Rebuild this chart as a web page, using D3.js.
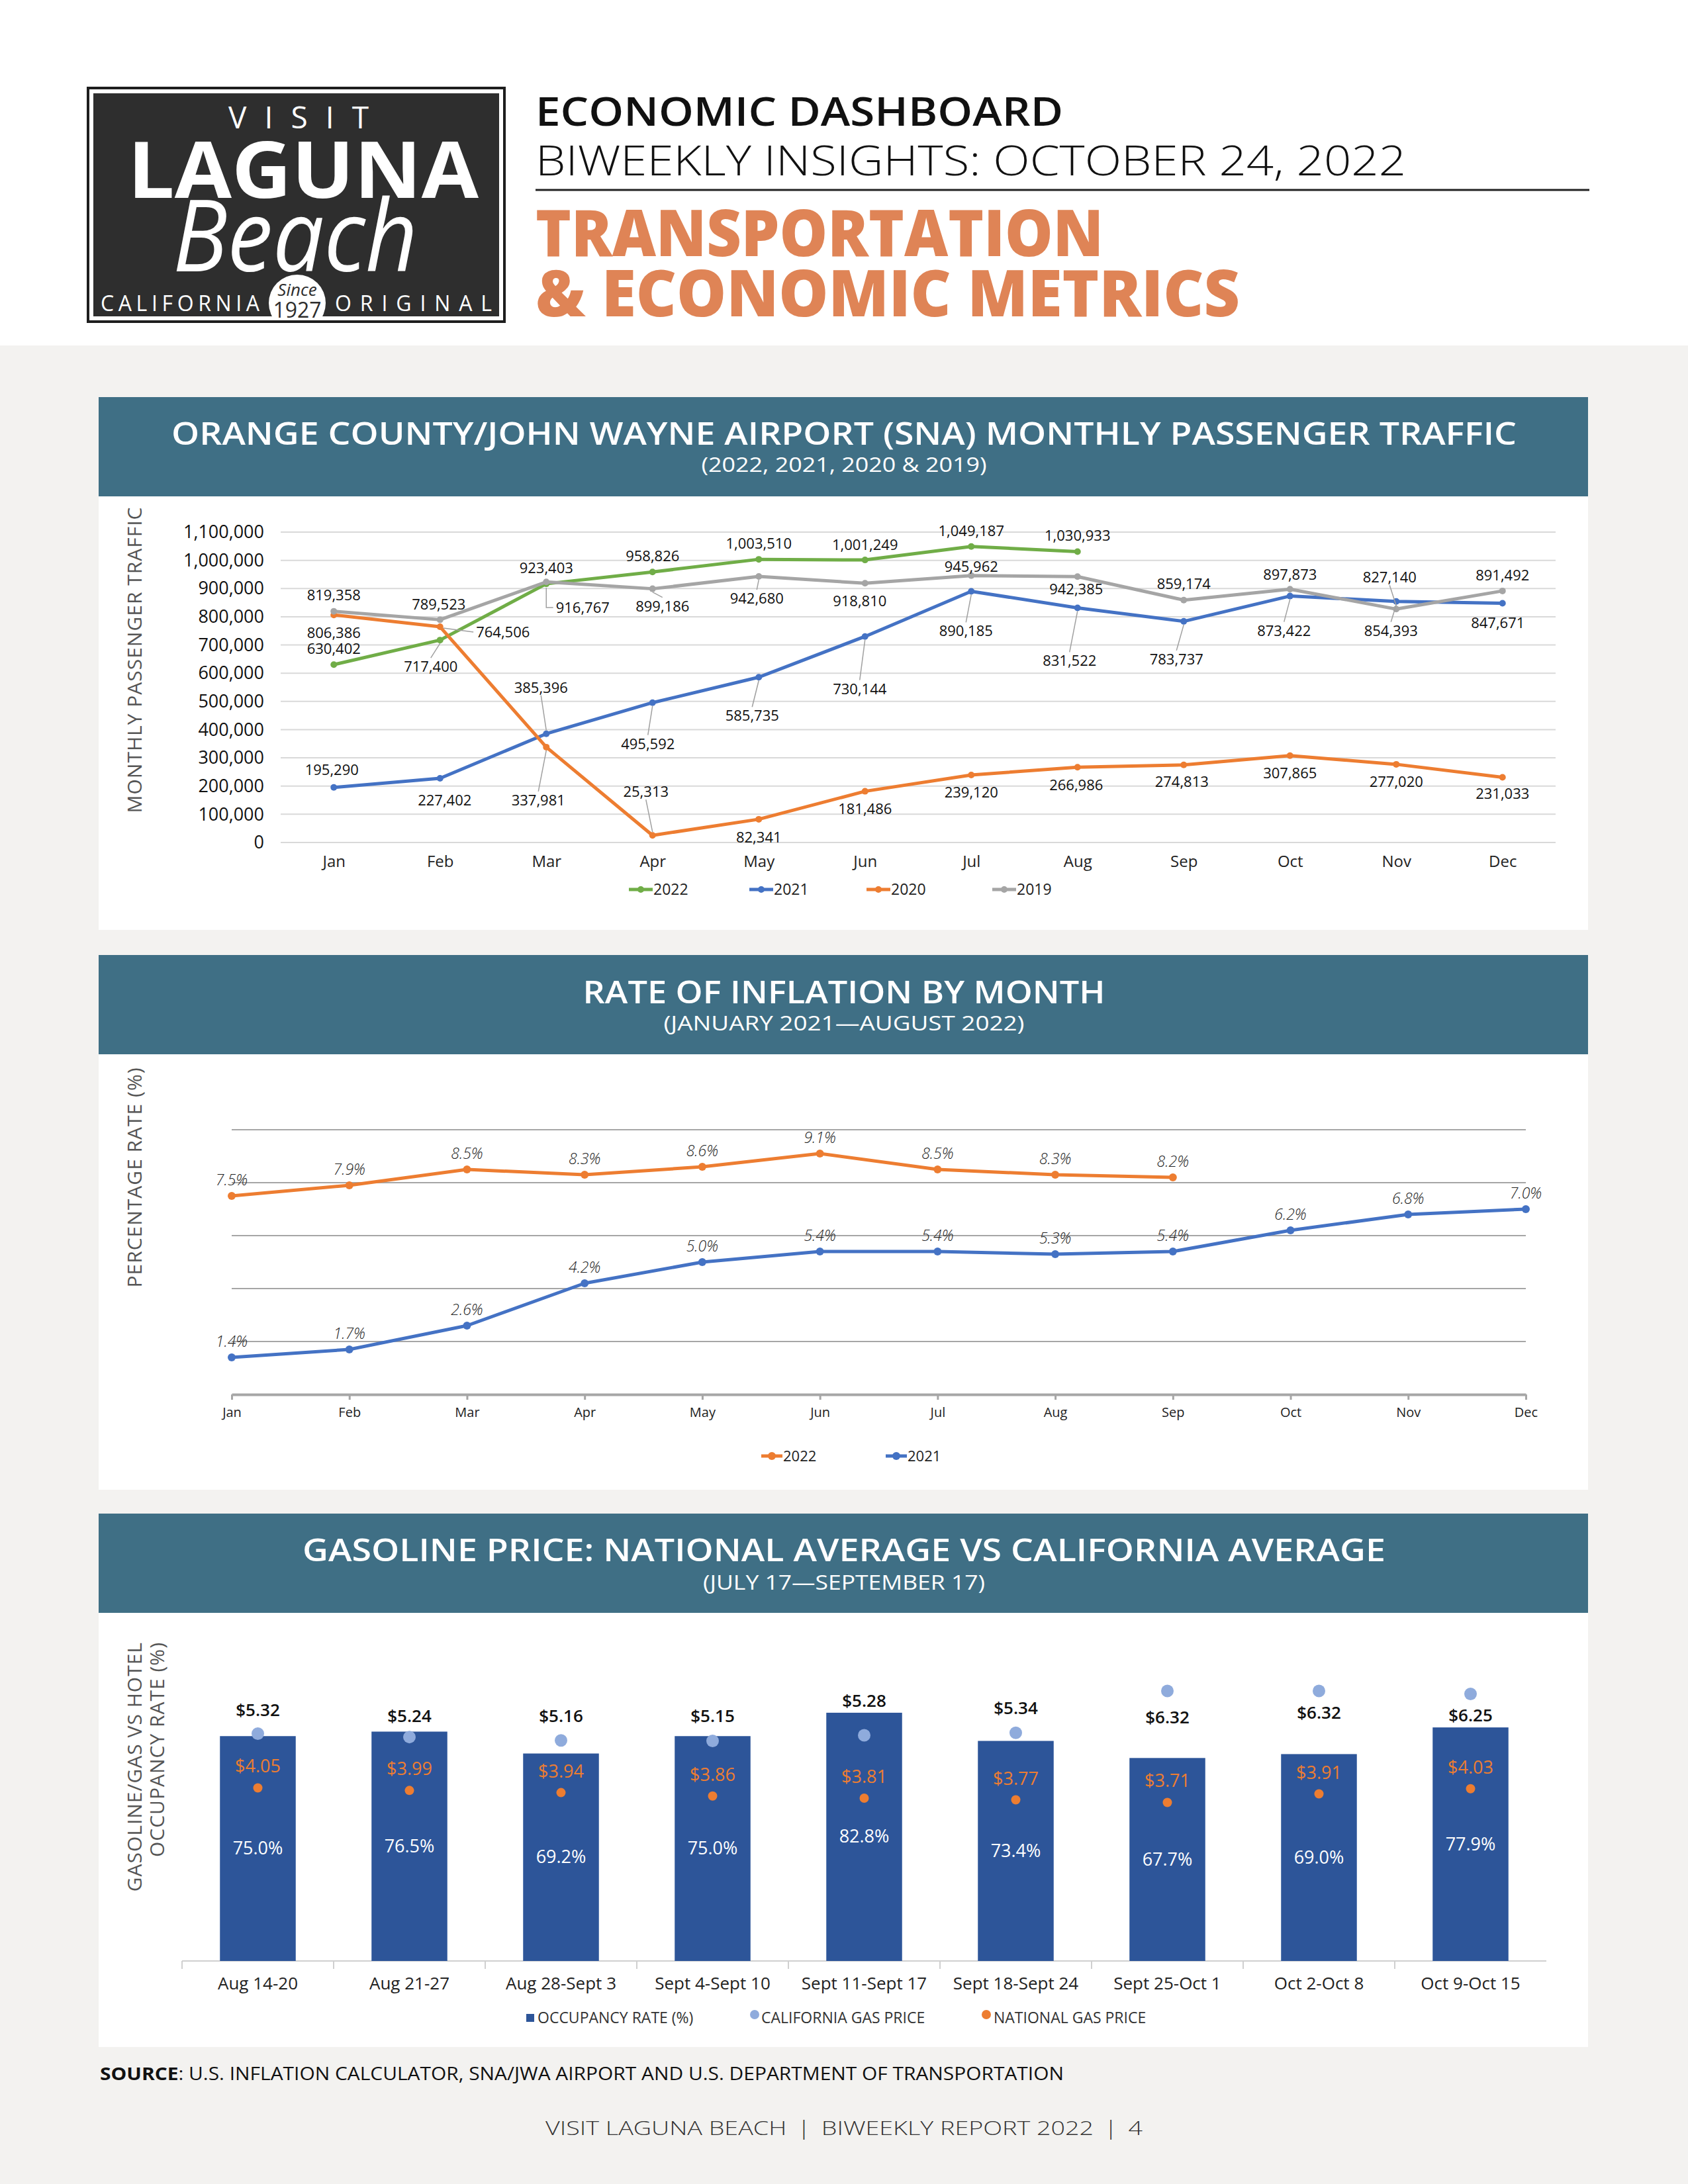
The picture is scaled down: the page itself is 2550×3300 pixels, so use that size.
<!DOCTYPE html>
<html>
<head>
<meta charset="utf-8">
<script src="https://cdn.jsdelivr.net/npm/d3@7"></script>
<style>
  body { margin: 0; background: #fff; }
  svg { display: block; }
  text { font-family: "Open Sans", "Noto Sans", sans-serif; }
</style>
</head>
<body>
<div id="page"></div>
<script>
// Data -------------------------------------
var months = ["Jan", "Feb", "Mar", "Apr", "May", "Jun", "Jul", "Aug", "Sep", "Oct", "Nov", "Dec"];

// SNA monthly passengers
var pax2022 = [630402, 717400, 916767, 958826, 1003510, 1001249, 1049187, 1030933];
var pax2021 = [195290, 227402, 385396, 495592, 585735, 730144, 890185, 831522, 783737, 873422, 854393, 847671];
var pax2020 = [806386, 764506, 337981, 25313, 82341, 181486, 239120, 266986, 274813, 307865, 277020, 231033];
var pax2019 = [819358, 789523, 923403, 899186, 942680, 918810, 945962, 942385, 859174, 897873, 827140, 891492];
var paxTicks = [0, 100000, 200000, 300000, 400000, 500000, 600000, 700000, 800000, 900000, 1000000, 1100000];

// inflation rate (%)
var inflation2022 = [7.5, 7.9, 8.5, 8.3, 8.6, 9.1, 8.5, 8.3, 8.2];
var inflation2021 = [1.4, 1.7, 2.6, 4.2, 5.0, 5.4, 5.4, 5.3, 5.4, 6.2, 6.8, 7.0];
var inflationGrid = [2, 4, 6, 8, 10];

// gas vs occupancy
var weeks = ["Aug 14-20", "Aug 21-27", "Aug 28-Sept 3", "Sept 4-Sept 10", "Sept 11-Sept 17",
  "Sept 18-Sept 24", "Sept 25-Oct 1", "Oct 2-Oct 8", "Oct 9-Oct 15"];
var occupancy = [75.0, 76.5, 69.2, 75.0, 82.8, 73.4, 67.7, 69.0, 77.9];
var caGas = [5.32, 5.24, 5.16, 5.15, 5.28, 5.34, 6.32, 6.32, 6.25];
var nationalGas = [4.05, 3.99, 3.94, 3.86, 3.81, 3.77, 3.71, 3.91, 4.03];

// Label placement (offset of label centre from its point, 1 = leader line, 2 = elbow leader)
var paxLabelPlace = {
  "2022": [[0, -24], [-14, 40, 1], [55, 36, 2], [0, -24], [0, -24], [0, -23], [0, -24], [0, -24]],
  "2021": [[-3, -27], [7, 33], [-8, -70, 1], [-7, 62, 1], [-10, 58, 1], [-8, 79, 1], [-8, 60, 1],
    [-12, 80, 1], [-11, 57, 1], [-9, 52, 1], [-8, 44, 1], [-7, 29]],
  "2020": [[0, 27], [95, 8, 1], [-12, 80, 1], [-10, -66, 1], [0, 27], [0, 26], [0, 26], [-2, 27],
    [-3, 25], [0, 26], [0, 26], [0, 25]],
  "2019": [[0, -25], [-2, -23], [0, -21], [15, 26, 1], [-3, 33, 1], [-8, 27], [0, -14], [-2, 19],
    [0, -25], [0, -22], [-10, -48, 1], [0, -24]]
};
var caLabelDy = [-35, -32, -37, -37, -52, -37, 40, 33, 33];

// Colours -------------------------------------
var headerBlue = "#3f6f85";
var colors = { "2022": "#70ad47", "2021": "#4472c4", "2020": "#ed7d31", "2019": "#a5a5a5" };

var svg = d3.select("#page").append("svg")
  .attr("width", 2550)
  .attr("height", 3300);

// Page background -------------------------------------
svg.append("rect").attr("width", 2550).attr("height", 3300).attr("fill", "#fff");
svg.append("rect").attr("y", 522).attr("width", 2550).attr("height", 2778).attr("fill", "#f3f2f0");

// Logo -------------------------------------
var logo = svg.append("g");
logo.append("rect").attr("x", 133).attr("y", 133).attr("width", 629).attr("height", 353)
  .attr("fill", "#fff").attr("stroke", "#1e1e1e").attr("stroke-width", 4);
logo.append("rect").attr("x", 141).attr("y", 141).attr("width", 613).attr("height", 337)
  .attr("fill", "#2e2e2e");
logo.append("text").attr("x", 451).attr("y", 194).attr("text-anchor", "middle")
  .attr("font-family", "DejaVu Sans Condensed, DejaVu Sans").attr("font-size", 46)
  .attr("fill", "#fff").attr("textLength", 212).attr("lengthAdjust", "spacing").text("VISIT");
logo.append("text").attr("x", 458).attr("y", 299).attr("text-anchor", "middle")
  .attr("font-family", "DejaVu Sans Condensed, DejaVu Sans").attr("font-weight", "bold")
  .attr("font-size", 118).attr("fill", "#fff")
  .attr("textLength", 530).attr("lengthAdjust", "spacingAndGlyphs").text("LAGUNA");
logo.append("text").attr("x", 446).attr("y", 410).attr("text-anchor", "middle")
  .attr("font-family", "DejaVu Serif, Liberation Serif").attr("font-style", "italic")
  .attr("font-size", 150).attr("fill", "#fff")
  .attr("textLength", 370).attr("lengthAdjust", "spacingAndGlyphs").text("Beach");
logo.append("text").attr("x", 152).attr("y", 470)
  .attr("font-family", "DejaVu Sans Condensed, DejaVu Sans").attr("font-size", 32)
  .attr("fill", "#fff").attr("textLength", 240).attr("lengthAdjust", "spacing").text("CALIFORNIA");
logo.append("text").attr("x", 506).attr("y", 470)
  .attr("font-family", "DejaVu Sans Condensed, DejaVu Sans").attr("font-size", 32)
  .attr("fill", "#fff").attr("textLength", 237).attr("lengthAdjust", "spacing").text("ORIGINAL");
logo.append("clipPath").attr("id", "logoClip").append("rect")
  .attr("x", 141).attr("y", 141).attr("width", 613).attr("height", 341);
logo.append("circle").attr("cx", 449).attr("cy", 458).attr("r", 43)
  .attr("fill", "#fff").attr("clip-path", "url(#logoClip)");
logo.append("text").attr("x", 449).attr("y", 447).attr("text-anchor", "middle")
  .attr("font-family", "DejaVu Serif").attr("font-style", "italic").attr("font-size", 26)
  .attr("fill", "#2e2e2e").text("Since");
logo.append("text").attr("x", 449).attr("y", 480).attr("text-anchor", "middle")
  .attr("font-family", "DejaVu Sans Condensed, DejaVu Sans").attr("font-size", 32)
  .attr("fill", "#2e2e2e").text("1927");

// Header text -------------------------------------
svg.append("text").attr("x", 809).attr("y", 190).attr("font-size", 60).attr("font-weight", 600)
  .attr("fill", "#111").attr("textLength", 797).attr("lengthAdjust", "spacingAndGlyphs")
  .text("ECONOMIC DASHBOARD");
svg.append("text").attr("x", 809).attr("y", 265).attr("font-size", 63).attr("font-weight", 300)
  .attr("fill", "#111").attr("textLength", 1315).attr("lengthAdjust", "spacingAndGlyphs")
  .text("BIWEEKLY INSIGHTS: OCTOBER 24, 2022");
svg.append("line").attr("x1", 809).attr("x2", 2401).attr("y1", 287).attr("y2", 287)
  .attr("stroke", "#222").attr("stroke-width", 3);
svg.append("text").attr("x", 809).attr("y", 387).attr("font-family", "Lato")
  .attr("font-size", 97).attr("font-weight", 900).attr("fill", "#df8456")
  .attr("textLength", 858).attr("lengthAdjust", "spacingAndGlyphs").text("TRANSPORTATION");
svg.append("text").attr("x", 809).attr("y", 478).attr("font-family", "Lato")
  .attr("font-size", 97).attr("font-weight", 900).attr("fill", "#df8456")
  .attr("textLength", 1064).attr("lengthAdjust", "spacingAndGlyphs").text("& ECONOMIC METRICS");

// Panel helper -------------------------------------
function panel(top, bottom, title, titleW, sub, subW, titleY, subY) {
  svg.append("rect").attr("x", 149).attr("y", top).attr("width", 2250).attr("height", bottom - top)
    .attr("fill", "#fff");
  svg.append("rect").attr("x", 149).attr("y", top).attr("width", 2250).attr("height", 150)
    .attr("fill", headerBlue);
  svg.append("text").attr("x", 1275).attr("y", titleY).attr("text-anchor", "middle")
    .attr("font-size", 47).attr("font-weight", 600).attr("fill", "#fff")
    .attr("textLength", titleW).attr("lengthAdjust", "spacingAndGlyphs").text(title);
  svg.append("text").attr("x", 1275).attr("y", subY).attr("text-anchor", "middle")
    .attr("font-size", 31).attr("font-weight", 400).attr("fill", "#fff")
    .attr("textLength", subW).attr("lengthAdjust", "spacingAndGlyphs").text(sub);
}

function yTitle(lines, x0, y, anchor) {
  lines.forEach(function(l, i) {
    svg.append("text")
      .attr("transform", "translate(" + (x0 + i * 34) + "," + y + ") rotate(-90)")
      .attr("text-anchor", anchor).attr("dominant-baseline", "middle")
      .attr("font-size", 30).attr("fill", "#555").attr("letter-spacing", 1).text(l);
  });
}

// Chart 1: passenger traffic -------------------------------------
panel(600, 1405, "ORANGE COUNTY/JOHN WAYNE AIRPORT (SNA) MONTHLY PASSENGER TRAFFIC", 2032,
  "(2022, 2021, 2020 & 2019)", 431, 672, 713);
yTitle(["MONTHLY PASSENGER TRAFFIC"], 206, 997, "middle");

var x1 = d3.scalePoint().domain(months).range([424, 2350]).padding(0.5);
var y1 = d3.scaleLinear().domain([0, 1100000]).range([1273, 804]);

var c1 = svg.append("g");
c1.selectAll("line.grid").data(paxTicks).enter().append("line")
  .attr("x1", 424).attr("x2", 2350)
  .attr("y1", function(d) { return y1(d); }).attr("y2", function(d) { return y1(d); })
  .attr("stroke", "#d9d9d9").attr("stroke-width", 2);

var yAxis1 = c1.append("g").attr("transform", "translate(424,0)")
  .call(d3.axisLeft(y1).tickValues(paxTicks).tickSize(0).tickPadding(25)
    .tickFormat(function(d) { return d === 0 ? "0" : d3.format(",")(d); }));
yAxis1.select(".domain").remove();
yAxis1.selectAll("text").attr("font-size", 27).attr("font-weight", 500).attr("fill", "#111")
  .attr("font-family", "Open Sans");

var xAxis1 = c1.append("g").attr("transform", "translate(0,1273)")
  .call(d3.axisBottom(x1).tickSize(0).tickPadding(20));
xAxis1.select(".domain").remove();
xAxis1.selectAll("text").attr("font-size", 24).attr("fill", "#222").attr("font-family", "Open Sans");

var paxSeries = [
  { key: "2022", values: pax2022 },
  { key: "2021", values: pax2021 },
  { key: "2020", values: pax2020 },
  { key: "2019", values: pax2019 }
];

var line1 = d3.line()
  .x(function(d, i) { return x1(months[i]); })
  .y(function(d) { return y1(d); });

paxSeries.forEach(function(s) {
  c1.append("path").datum(s.values).attr("d", line1)
    .attr("fill", "none").attr("stroke", colors[s.key]).attr("stroke-width", 5)
    .attr("stroke-linejoin", "round");
  c1.selectAll("circle.p" + s.key).data(s.values).enter().append("circle")
    .attr("cx", function(d, i) { return x1(months[i]); })
    .attr("cy", function(d) { return y1(d); })
    .attr("r", 5).attr("fill", colors[s.key]);
});

// data labels with leaders
var lab1 = svg.append("g");
paxSeries.forEach(function(s) {
  s.values.forEach(function(v, i) {
    var place = paxLabelPlace[s.key][i];
    var px = x1(months[i]), py = y1(v);
    var cx = px + place[0], cy = py + place[1];
    var t = lab1.append("text").attr("x", cx).attr("y", cy + 8)
      .attr("text-anchor", "middle").attr("font-size", 22).attr("fill", "#111")
      .text(d3.format(",")(v));
    if (place[2]) {
      var hw = t.node().getComputedTextLength() / 2;
      var pts;
      if (place[2] === 2) {
        pts = [[px, py + 6], [px, cy], [cx - hw - 4, cy]];
      } else if (Math.abs(place[0]) > 40) {
        pts = [[px + 5, py + 2], [cx - hw - 4, cy]];
      } else if (place[1] > 0) {
        pts = [[px, py + 5], [cx, cy - 13]];
      } else {
        pts = [[px, py - 5], [cx, cy + 12]];
      }
      lab1.append("path").attr("d", d3.line()(pts))
        .attr("fill", "none").attr("stroke", "#a0a0a0").attr("stroke-width", 1.5);
    }
  });
});

// legend
var leg1 = svg.append("g");
var leg1X = [950, 1132, 1309, 1499];
paxSeries.forEach(function(s, i) {
  var g = leg1.append("g").attr("transform", "translate(" + leg1X[i] + ",1344)");
  g.append("line").attr("x1", 0).attr("x2", 36).attr("stroke", colors[s.key]).attr("stroke-width", 5);
  g.append("circle").attr("cx", 18).attr("r", 5).attr("fill", colors[s.key]);
  g.append("text").attr("x", 37).attr("y", 8).attr("font-size", 23).attr("fill", "#222").text(s.key);
});

// Chart 2: inflation -------------------------------------
panel(1443, 2251, "RATE OF INFLATION BY MONTH", 789, "(JANUARY 2021\u2014AUGUST 2022)", 545, 1516, 1557);
yTitle(["PERCENTAGE RATE (%)"], 206, 1779, "middle");

var x2 = d3.scalePoint().domain(months).range([350, 2305]);
var y2 = d3.scaleLinear().domain([0, 10]).range([2107, 1707]);

var c2 = svg.append("g");
c2.selectAll("line.grid").data(inflationGrid).enter().append("line")
  .attr("x1", 350).attr("x2", 2305)
  .attr("y1", function(d) { return y2(d); }).attr("y2", function(d) { return y2(d); })
  .attr("stroke", "#a6a6a6").attr("stroke-width", 2);

var xAxis2 = c2.append("g").attr("transform", "translate(0,2107)")
  .call(d3.axisBottom(x2).tickSize(8).tickPadding(12).tickSizeOuter(0));
xAxis2.select(".domain").attr("stroke", "#a6a6a6").attr("stroke-width", 4);
xAxis2.selectAll(".tick line").attr("stroke", "#a6a6a6").attr("stroke-width", 3);
xAxis2.selectAll("text").attr("font-size", 20).attr("fill", "#222").attr("font-family", "Open Sans");

var infSeries = [
  { key: "2022", values: inflation2022, color: "#ed7d31" },
  { key: "2021", values: inflation2021, color: "#4472c4" }
];
var line2 = d3.line()
  .x(function(d, i) { return x2(months[i]); })
  .y(function(d) { return y2(d); });

infSeries.forEach(function(s) {
  c2.append("path").datum(s.values).attr("d", line2)
    .attr("fill", "none").attr("stroke", s.color).attr("stroke-width", 5)
    .attr("stroke-linejoin", "round");
  c2.selectAll("circle.p" + s.key).data(s.values).enter().append("circle")
    .attr("cx", function(d, i) { return x2(months[i]); })
    .attr("cy", function(d) { return y2(d); })
    .attr("r", 6).attr("fill", s.color);
  c2.selectAll("text.l" + s.key).data(s.values).enter().append("text")
    .attr("x", function(d, i) { return x2(months[i]); })
    .attr("y", function(d) { return y2(d) - 16; })
    .attr("text-anchor", "middle").attr("font-size", 23).attr("font-style", "italic")
    .attr("font-weight", 300).attr("fill", "#222")
    .text(function(d) { return d.toFixed(1) + "%"; });
});

var leg2X = [1150, 1338];
infSeries.forEach(function(s, i) {
  var g = svg.append("g").attr("transform", "translate(" + leg2X[i] + ",2200)");
  g.append("line").attr("x1", 0).attr("x2", 32).attr("stroke", s.color).attr("stroke-width", 5);
  g.append("circle").attr("cx", 16).attr("r", 6).attr("fill", s.color);
  g.append("text").attr("x", 33).attr("y", 8).attr("font-size", 22).attr("fill", "#222").text(s.key);
});

// Chart 3: gas price vs occupancy -------------------------------------
panel(2287, 3093, "GASOLINE PRICE: NATIONAL AVERAGE VS CALIFORNIA AVERAGE", 1636,
  "(JULY 17\u2014SEPTEMBER 17)", 426, 2359, 2402);
yTitle(["GASOLINE/GAS VS HOTEL", "OCCUPANCY RATE (%)"], 206, 2481, "end");

var x3 = d3.scaleBand().domain(weeks).range([275, 2336]).paddingInner(0.5).paddingOuter(0.25);
var yOcc = d3.scaleLinear().domain([0, 100]).range([2963, 2510]);
var yGas = d3.scaleLinear().domain([0, 7]).range([2963, 2511]);
var step3 = x3.step();

var c3 = svg.append("g");
c3.append("line").attr("x1", 275).attr("x2", 2336).attr("y1", 2963).attr("y2", 2963)
  .attr("stroke", "#d0d0d0").attr("stroke-width", 2);
c3.selectAll("line.tk").data(d3.range(weeks.length)).enter().append("line")
  .attr("x1", function(i) { return x3(weeks[i]) - step3 * 0.25; })
  .attr("x2", function(i) { return x3(weeks[i]) - step3 * 0.25; })
  .attr("y1", 2963).attr("y2", 2975).attr("stroke", "#d0d0d0").attr("stroke-width", 2);

c3.selectAll("rect.bar").data(occupancy).enter().append("rect")
  .attr("x", function(d, i) { return x3(weeks[i]); })
  .attr("y", function(d) { return yOcc(d); })
  .attr("width", x3.bandwidth())
  .attr("height", function(d) { return 2963 - yOcc(d); })
  .attr("fill", "#2d5599");

function cx3(i) { return x3(weeks[i]) + x3.bandwidth() / 2; }

c3.selectAll("text.occ").data(occupancy).enter().append("text")
  .attr("x", function(d, i) { return cx3(i); })
  .attr("y", function(d) { return (yOcc(d) + 2963) / 2 + 9; })
  .attr("text-anchor", "middle").attr("font-size", 27).attr("fill", "#fff")
  .text(function(d) { return d.toFixed(1) + "%"; });

c3.selectAll("circle.ca").data(caGas).enter().append("circle")
  .attr("cx", function(d, i) { return cx3(i); })
  .attr("cy", function(d) { return yGas(d); })
  .attr("r", 9.5).attr("fill", "#8fabdc");
c3.selectAll("text.ca").data(caGas).enter().append("text")
  .attr("x", function(d, i) { return cx3(i); })
  .attr("y", function(d, i) { return yGas(d) + caLabelDy[i] + 9; })
  .attr("text-anchor", "middle").attr("font-size", 26).attr("font-weight", 600).attr("fill", "#111")
  .text(function(d) { return "$" + d.toFixed(2); });

c3.selectAll("circle.nat").data(nationalGas).enter().append("circle")
  .attr("cx", function(d, i) { return cx3(i); })
  .attr("cy", function(d) { return yGas(d); })
  .attr("r", 7).attr("fill", "#ed7d31");
c3.selectAll("text.nat").data(nationalGas).enter().append("text")
  .attr("x", function(d, i) { return cx3(i); })
  .attr("y", function(d) { return yGas(d) - 32 + 9; })
  .attr("text-anchor", "middle").attr("font-size", 27).attr("fill", "#ed7d31")
  .text(function(d) { return "$" + d.toFixed(2); });

c3.selectAll("text.wk").data(weeks).enter().append("text")
  .attr("x", function(d) { return x3(d) + x3.bandwidth() / 2; })
  .attr("y", 3006).attr("text-anchor", "middle").attr("font-size", 26).attr("fill", "#222")
  .text(function(d) { return d; });

// legend
var leg3 = svg.append("g").attr("font-size", 23).attr("fill", "#333");
leg3.append("rect").attr("x", 795).attr("y", 3043).attr("width", 12).attr("height", 12).attr("fill", "#2d5599");
leg3.append("text").attr("x", 812).attr("y", 3057).attr("fill", "#333").text("OCCUPANCY RATE (%)");
leg3.append("circle").attr("cx", 1140).attr("cy", 3044).attr("r", 7).attr("fill", "#8fabdc");
leg3.append("text").attr("x", 1150).attr("y", 3057).attr("fill", "#333").text("CALIFORNIA GAS PRICE");
leg3.append("circle").attr("cx", 1490).attr("cy", 3044).attr("r", 7).attr("fill", "#ed7d31");
leg3.append("text").attr("x", 1501).attr("y", 3057).attr("fill", "#333").text("NATIONAL GAS PRICE");

// Footer -------------------------------------
var src = svg.append("text").attr("x", 151).attr("y", 3143).attr("font-size", 27).attr("fill", "#111")
  .attr("textLength", 1456).attr("lengthAdjust", "spacingAndGlyphs");
src.append("tspan").attr("font-weight", 700).text("SOURCE");
src.append("tspan").text(": U.S. INFLATION CALCULATOR, SNA/JWA AIRPORT AND U.S. DEPARTMENT OF TRANSPORTATION");

svg.append("text").attr("x", 1275).attr("y", 3226).attr("text-anchor", "middle")
  .attr("font-size", 30).attr("font-weight", 300).attr("fill", "#333")
  .attr("textLength", 902).attr("lengthAdjust", "spacingAndGlyphs")
  .text("VISIT LAGUNA BEACH \u2009|\u2009 BIWEEKLY REPORT 2022 \u2009|\u2009 4");
</script>
</body>
</html>
